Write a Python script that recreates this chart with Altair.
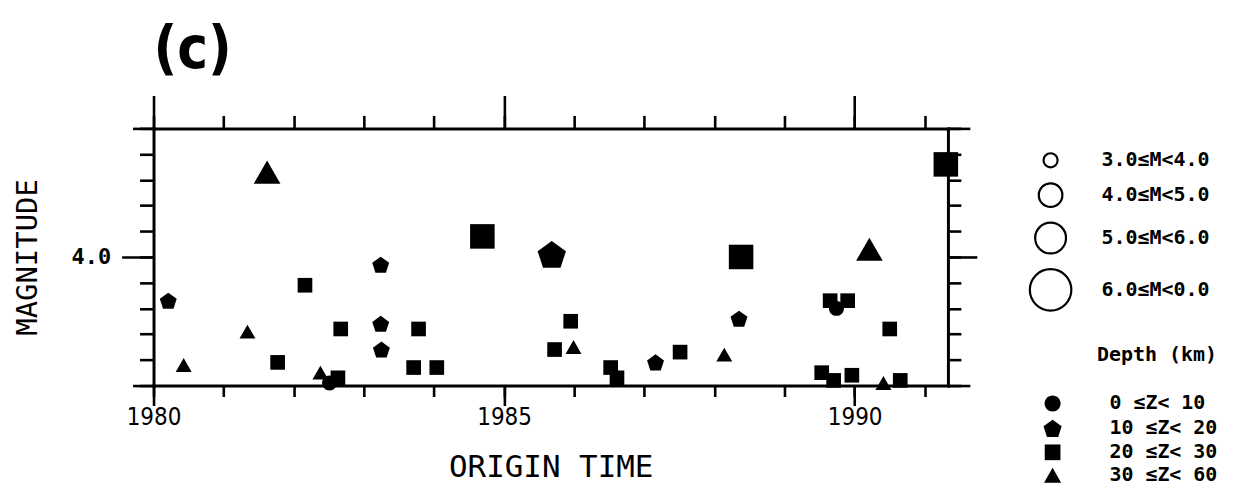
import json
import math
import altair as alt
import pandas as pd

# ---------------- data ----------------
YEARS = [1980.21, 1980.43, 1981.34, 1981.62, 1981.77, 1982.16, 1982.38, 1982.51,
         1982.63, 1982.67, 1983.24, 1983.24, 1983.25, 1983.71, 1983.78, 1984.04,
         1984.69, 1985.68, 1985.72, 1985.95, 1985.99, 1986.52, 1986.61, 1987.16,
         1987.51, 1988.14, 1988.35, 1988.38, 1989.53, 1989.65, 1989.70, 1989.74,
         1989.90, 1989.96, 1990.21, 1990.41, 1990.50, 1990.65, 1991.30]
MAGS = [3.83, 3.58, 3.71, 4.33, 3.59, 3.89, 3.55, 3.51,
        3.53, 3.72, 3.97, 3.74, 3.64, 3.57, 3.72, 3.57,
        4.08, 4.01, 3.64, 3.75, 3.65, 3.57, 3.53, 3.59,
        3.63, 3.62, 3.76, 4.00, 3.55, 3.83, 3.52, 3.80,
        3.83, 3.54, 4.03, 3.51, 3.72, 3.52, 4.36]
# depth class index: 0 = 0-10, 1 = 10-20, 2 = 20-30, 3 = 30-60 km
DEPTH_IDX = [1, 3, 3, 3, 2, 2, 3, 0,
             2, 2, 1, 1, 1, 2, 2, 2,
             2, 1, 2, 2, 3, 2, 2, 1,
             2, 3, 1, 2, 2, 2, 2, 0,
             2, 2, 3, 3, 2, 2, 2]

DEPTH_CLASSES = ["\u20070 ≤Z< 10", "10 ≤Z< 20", "20 ≤Z< 30", "30 ≤Z< 60"]
MAG_CLASSES = ["3.0≤M<4.0", "4.0≤M<5.0", "5.0≤M<6.0", "6.0≤M<0.0"]
MAG_LOWER = [3.0, 4.0, 5.0, 6.0]
MAG_CLASS_IDS = [0, 1, 2, 3]

X_TICKS = [1980, 1981, 1982, 1983, 1984, 1985, 1986, 1987, 1988, 1989, 1990, 1991]
X_MAJOR = [1980, 1985, 1990]
Y_TICKS = [3.5, 3.6, 3.7, 3.8, 3.9, 4.0, 4.1, 4.2, 4.3, 4.4, 4.5]
Y_LABELLED = [4.0]
Y_ENDS = [3.5, 4.5]
X_DOMAIN = [1980, 1991.33]
Y_DOMAIN = [3.5, 4.5]


def mag_class_id(m):
    idx = 0
    for i, lo in enumerate(MAG_LOWER):
        if m >= lo - 1e-9:
            idx = i
    return MAG_CLASS_IDS[idx]


df = pd.DataFrame({
    "year": YEARS,
    "mag": MAGS,
    "depth": [DEPTH_CLASSES[i] for i in DEPTH_IDX],
    "mci": [mag_class_id(m) for m in MAGS],
})

# ---------------- marker shapes (unit-box SVG paths) ----------------
def pentagon(half_w):
    r = half_w / math.sin(math.radians(72))
    dy = r * (1 - math.cos(math.radians(36))) / 2
    pts = []
    for k in range(5):
        a = math.radians(-90 + 72 * k)
        pts.append((r * math.cos(a), r * math.sin(a) + dy))
    return "M" + " L".join(f"{x:.3f},{y:.3f}" for x, y in pts) + " Z"


CIRCLE = "M-1.06,0 A1.06,1.06 0 1,0 1.06,0 A1.06,1.06 0 1,0 -1.06,0 Z"
PENTA = pentagon(1.2)
SQUARE = "M-1.04,-1.04 L1.04,-1.04 L1.04,1.04 L-1.04,1.04 Z"
TRIANGLE = "M0,-0.98 L1.13,0.98 L-1.13,0.98 Z"
SHAPES = [CIRCLE, PENTA, SQUARE, TRIANGLE]
SIZES = [200, 560, 960, 1735]

MONO = "DejaVu Sans Mono"
NARROW = "Liberation Sans Narrow, DejaVu Sans Condensed, DejaVu Sans, sans-serif"
W = 797
H = 258
LW = 3

x_scale = alt.Scale(domain=X_DOMAIN, nice=False, zero=False)
y_scale = alt.Scale(domain=Y_DOMAIN, nice=False, zero=False)
size_scale = alt.Scale(type="linear", domain=MAG_CLASS_IDS, range=SIZES,
                       zero=False, nice=False)


def axis(orient, values, size, labels=False, domain=False, **kw):
    return alt.Axis(orient=orient, values=values, tickSize=size, labels=labels,
                    domain=domain, domainWidth=LW, domainColor="black", domainCap="square",
                    tickWidth=2.6, tickColor="black", grid=False, **kw)


base = alt.Chart(df)

size_legend = alt.Legend(
    title=None, orient="none", legendX=878, legendY=22, symbolType="circle",
    values=MAG_CLASS_IDS, labelExpr=json.dumps(MAG_CLASSES) + "[datum.value]",
    symbolOpacity=1, symbolStrokeColor="black", symbolStrokeWidth=2.2,
    labelFont=MONO, labelFontSize=20, labelFontWeight="bold", labelColor="black",
    gridAlign="each", rowPadding=6, labelOffset=29, direction="vertical",
)
shape_legend = alt.Legend(
    title="Depth (km)", orient="none", legendX=892, legendY=217,
    titleFont=MONO, titleFontSize=20, titleFontWeight="bold", titleColor="black",
    titleAnchor="end", titlePadding=29,
    labelFont=MONO, labelFontSize=20, labelFontWeight="bold", labelColor="black",
    symbolSize=230, rowPadding=1, labelOffset=47,
)

points = base.mark_point(filled=True, color="black", opacity=1).encode(
    x=alt.X("year:Q", scale=x_scale,
            axis=axis("bottom", X_MAJOR, 20, labels=True, domain=True, format="d",
                      labelFont=NARROW, labelFontSize=24, labelColor="black",
                      labelPadding=0, labelFlush=False, labelOverlap=False,
                      title="ORIGIN TIME", titleFont=MONO, titleFontSize=31,
                      titleFontWeight="normal", titleColor="black",
                      titleY=82, titleBaseline="middle")),
    y=alt.Y("mag:Q", scale=y_scale,
            axis=axis("left", Y_LABELLED, 32, labels=True, domain=True, format=".1f",
                      labelFont=MONO, labelFontSize=22, labelFontWeight="bold",
                      labelColor="black", labelPadding=11, labelFlush=False,
                      title="MAGNITUDE", titleFont=MONO, titleFontSize=29,
                      titleFontWeight="normal", titleColor="black",
                      titleX=-126, titleBaseline="middle")),
    shape=alt.Shape("depth:N", scale=alt.Scale(domain=DEPTH_CLASSES, range=SHAPES),
                    legend=shape_legend),
    size=alt.Size("mci:Q", scale=size_scale, legend=None),
)

# open-circle size key (magnitude classes); invisible marks, legend only
size_key = base.mark_point(filled=False, color="black", opacity=0, strokeWidth=2.2).encode(
    x=alt.X("year:Q", scale=x_scale, axis=None),
    y=alt.Y("mag:Q", scale=y_scale, axis=None),
    size=alt.Size("mci:Q", scale=size_scale, legend=size_legend),
)


def ghost(xax, yax):
    return base.mark_point(opacity=0).encode(
        x=alt.X("year:Q", scale=x_scale, axis=xax, title=None),
        y=alt.Y("mag:Q", scale=y_scale, axis=yax, title=None),
    )


layers = [
    points,
    size_key,
    ghost(axis("bottom", X_TICKS, 11), axis("left", Y_ENDS, 21)),
    ghost(axis("top", X_MAJOR, 33, domain=True), axis("left", Y_TICKS, 14)),
    ghost(axis("top", X_TICKS, 13), axis("right", Y_LABELLED, 29, domain=True)),
    ghost(None, axis("right", Y_ENDS, 22)),
    ghost(None, axis("right", Y_TICKS, 13)),
]

chart = alt.layer(*layers).resolve_axis(
    x="independent", y="independent"
).resolve_legend(size="independent").properties(
    width=W, height=H,
    title=alt.TitleParams("(c)", anchor="start", frame="group", font=NARROW, fontSize=58,
                          fontWeight="bold", color="black", offset=14),
    autosize=alt.AutoSizeParams(type="none"),
    padding={"left": 146, "top": 120, "right": 285, "bottom": 100},
).configure_view(strokeWidth=0).configure(background="white")

chart.save("out.html", embed_options={"renderer": "svg", "actions": False})
